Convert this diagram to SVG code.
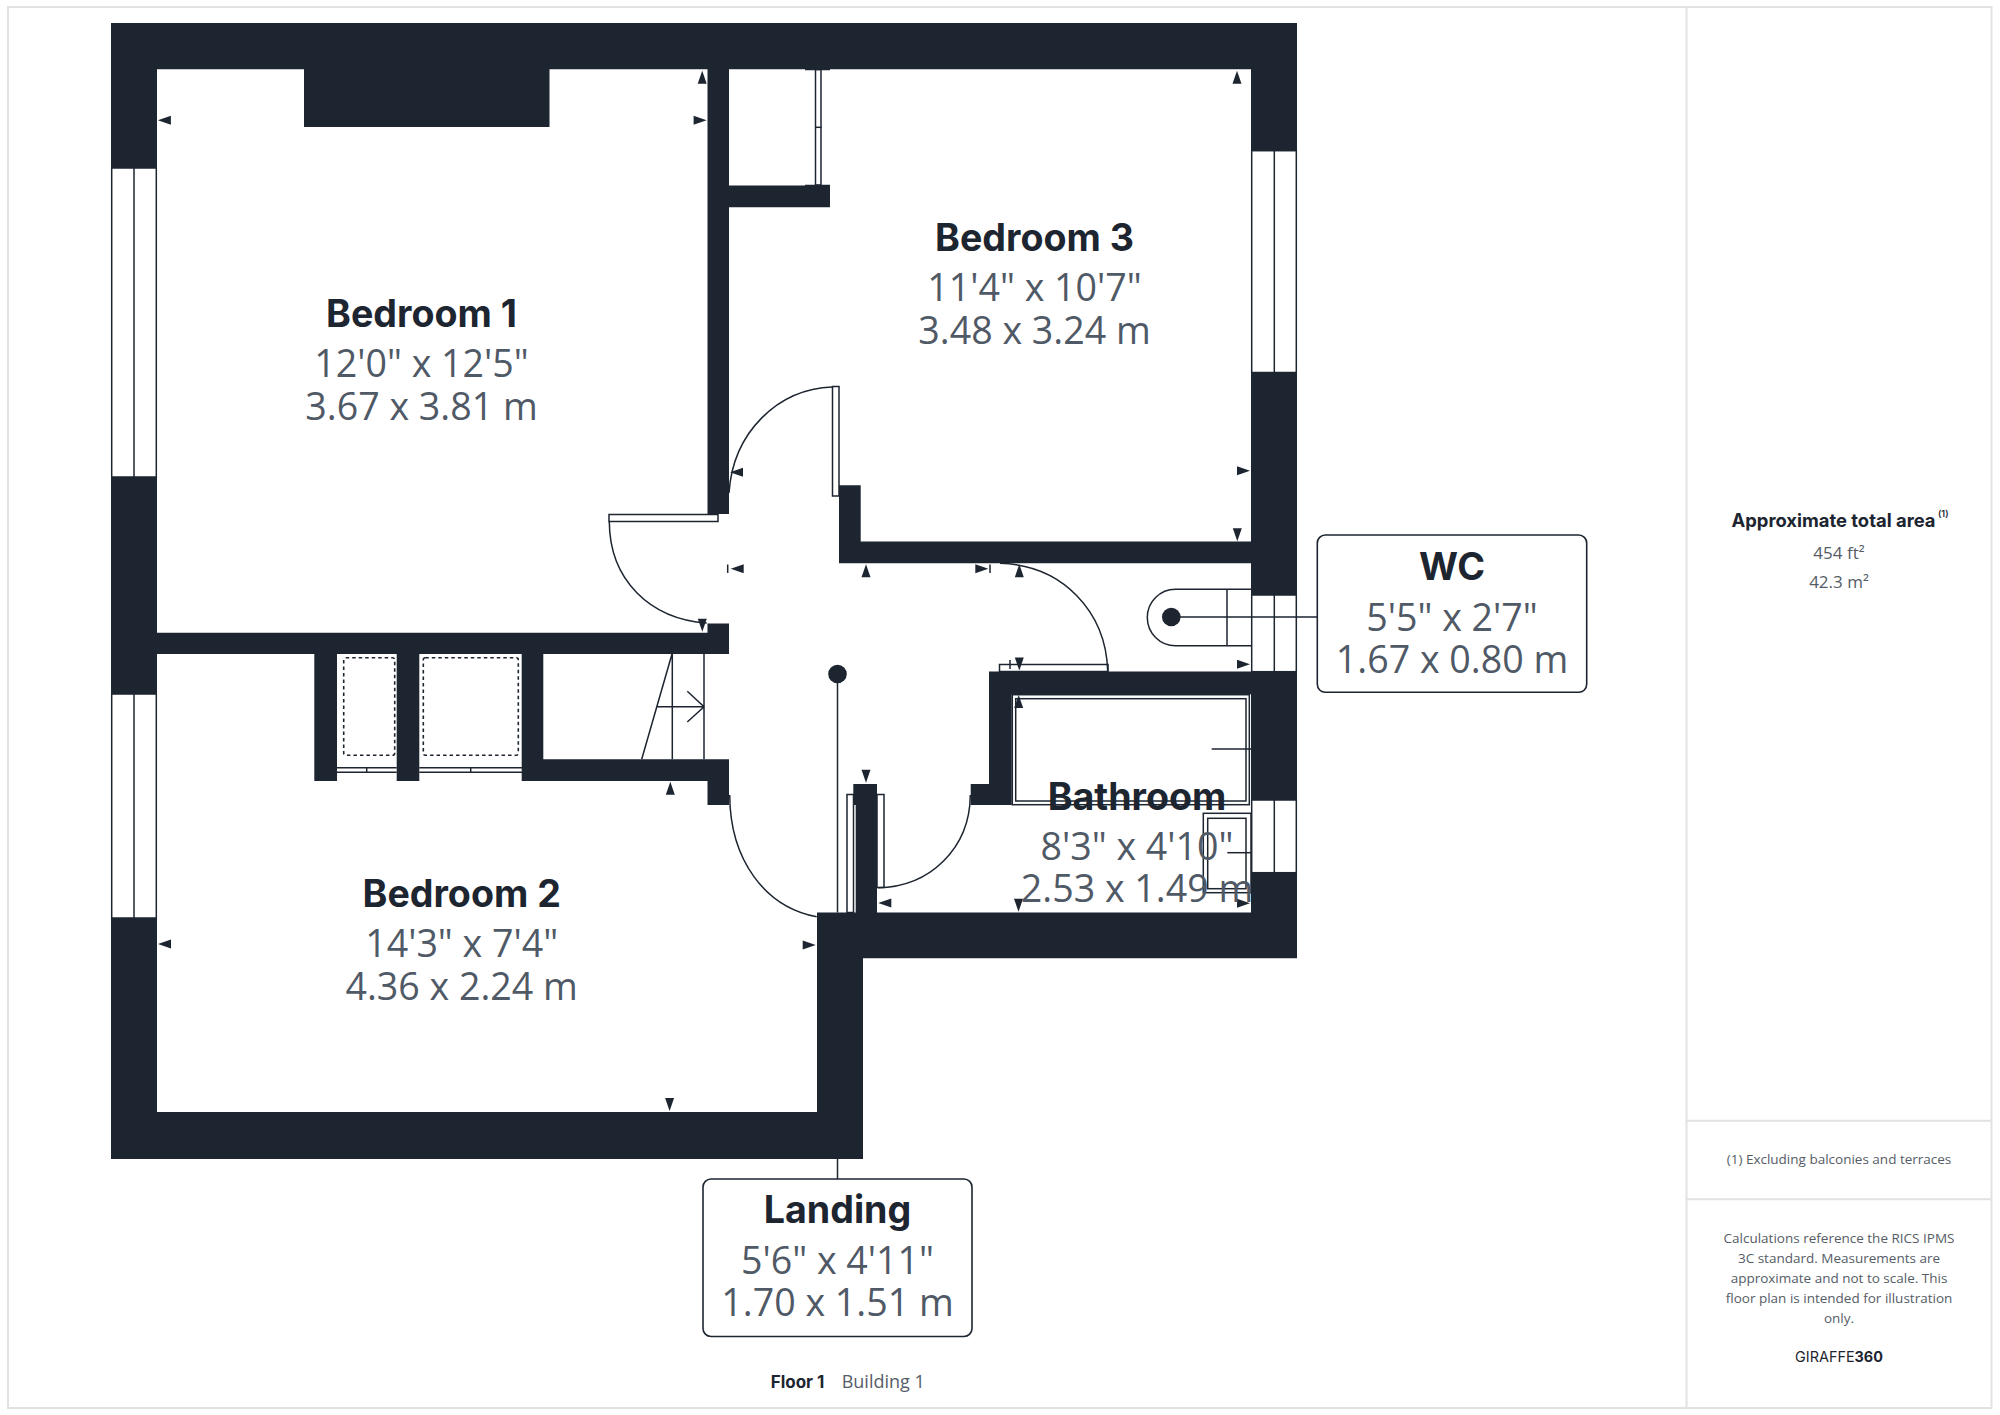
<svg xmlns="http://www.w3.org/2000/svg" width="2000" height="1415" viewBox="0 0 2000 1415">
<style>
.w{fill:#1d2530}
.l{fill:none;stroke:#1d2530;stroke-width:1.5}
.wl{fill:#fff;stroke:#1d2530;stroke-width:1.5}
.d{fill:none;stroke:#1d2530;stroke-width:1.6;stroke-dasharray:3.5 3}
.t{font-family:"Inter","Liberation Sans",sans-serif;font-weight:700;font-size:37.6px;fill:#1d2530;text-anchor:middle}
.s{font-family:"Open Sans","Liberation Sans",sans-serif;font-weight:400;font-size:37.6px;fill:#505966;text-anchor:middle}
.b{fill:#fff;stroke:#1d2530;stroke-width:1.6}
.p{font-family:"Open Sans","Liberation Sans",sans-serif;font-size:13.5px;fill:#555c66;text-anchor:middle}
.f{fill:none;stroke:#e2e2e2;stroke-width:2}
</style>
<defs>
<path id="au" class="w" d="M0 0L4.5 13H-4.5Z"/>
<path id="ad" class="w" d="M0 0L4.5 -13H-4.5Z"/>
<path id="al" class="w" d="M0 0L13 -4.5V4.5Z"/>
<path id="ar" class="w" d="M0 0L-13 -4.5V4.5Z"/>
</defs>
<rect width="2000" height="1415" fill="#fff"/>
<g id="frame">
<rect class="f" x="8" y="7" width="1983.5" height="1401"/>
<path class="f" d="M1686.5 7V1408M1686.5 1120.7H1991.5M1686.5 1199.3H1991.5"/>
</g>
<g id="walls">
<path class="w" d="M111 23H1297V150.7H1251V69.3H729V185.5H830V207.3H729V514H707.5V69.3H549.5V127H304V69.3H157V168H111Z"/>
<path class="w" d="M111 477H157V632.7H707.5V623.5H729V654H543.3V759.3H729V805H707.5V781H521.7V654H419.3V781H396.7V654H337V781H314.3V654H157V694H111Z"/>
<path class="w" d="M111 918H157V1112H817V912.5H855.7V805H853.3V784H877V912.5H1251V872.7H1297V958.3H863V1159H111Z"/>
<path class="w" d="M1251 372.5H1297V595H1251V563.3H860.7V563.3H839V485.3H860.7V541.5H1251Z"/>
<path class="w" d="M989 671.5H1297V800H1251V694.3H1011.7V805H970.7V784H989Z"/>
</g>
<g id="windows">
<rect class="wl" x="111.7" y="168" width="44.6" height="309"/>
<path class="l" d="M134 168V477"/>
<rect class="wl" x="111.7" y="694" width="44.6" height="224"/>
<path class="l" d="M134 694V918"/>
<rect class="wl" x="1251.7" y="150.7" width="44.6" height="221.8"/>
<path class="l" d="M1274.3 150.7V372.5"/>
<rect class="wl" x="1251.7" y="595" width="44.6" height="76.7"/>
<path class="l" d="M1274.3 595V671.7"/>
<rect class="wl" x="1251.7" y="800" width="44.6" height="72.7"/>
<path class="l" d="M1274.3 800V872.7"/>
</g>
<g id="doors">
<rect class="wl" x="609" y="514.5" width="109" height="7"/>
<path class="l" d="M609.3 521.5C609.5 580 650 619 706.7 623"/>
<rect class="wl" x="832.5" y="386.5" width="6.5" height="109.5"/>
<path class="l" d="M832.3 387C778 389 733 432 729 493"/>
<rect class="wl" x="847" y="794.5" width="6.5" height="118"/>
<rect class="wl" x="877" y="794.5" width="7" height="93"/>
<path class="l" d="M729.7 795C730 860 765 907 816.7 916.7"/>
<path class="l" d="M878 887.7C930 887 970 848 970.3 795"/>
<rect class="wl" x="999.5" y="664.5" width="108.5" height="7"/>
<path class="l" d="M1000 563.3C1063 565 1106 612 1107.7 671"/>
<rect class="wl" x="815.5" y="69.5" width="5.5" height="115.5"/>
<path class="l" d="M815 127.3H821.5" stroke-width="2"/>
<path class="l" d="M805 69.5H830M805 185.5H830"/>
<path class="l" d="M337 767.7H396.7M337 772.3H396.7M366.7 767.7V772.3M419.3 767.7H522M419.3 772.3H522M470.7 767.7V772.3"/>
</g>
<g id="fixtures">
<rect class="d" x="343.7" y="657.7" width="51" height="97.6" rx="2"/>
<rect class="d" x="423.3" y="657.7" width="95" height="97.6" rx="2"/>
<path class="l" d="M672 654L641.7 759.3M672.3 654V759.3M704 654V759.3M657.3 706.7H704M687.3 691.3L704 706.7L687.3 722"/>
<path class="l" d="M1251 589.3H1175.5A28.2 28.2 0 0 0 1175.5 645.7H1251M1227 589.3V645.7"/>
<rect class="l" x="1012.3" y="694.7" width="237" height="110"/>
<rect class="l" x="1015.7" y="698.7" width="230.3" height="102.3"/>
<path class="l" d="M1211.7 749H1251"/>
<rect class="l" x="1203.3" y="813.3" width="47.7" height="79.4"/>
<rect class="l" x="1207.7" y="818.3" width="38.3" height="70.4"/>
<path class="l" d="M1227.3 852.7H1251"/>
</g>
<g id="marks">
<use href="#al" x="157.9" y="120.3"/><use href="#ar" x="706.6" y="120.3"/><use href="#au" x="702.2" y="70.7"/>
<use href="#au" x="1237" y="70.7"/><use href="#ar" x="1250" y="470.7"/>
<use href="#ad" x="1237.3" y="541.3"/><use href="#al" x="730" y="472.3"/>
<use href="#al" x="730.7" y="568.7"/><path class="l" d="M727.7 564.5V572.9"/>
<use href="#au" x="866" y="564.3"/><use href="#ar" x="988.3" y="568.7"/><path class="l" d="M990 564.5V572.9"/>
<use href="#au" x="1019.3" y="564.3"/><use href="#ad" x="702.3" y="631.7"/>
<use href="#au" x="670.3" y="781.7"/><use href="#ad" x="866" y="782.7"/>
<use href="#al" x="878.3" y="903"/><use href="#ad" x="1018.5" y="911.7"/><use href="#ar" x="815.7" y="945"/>
<use href="#au" x="1018.7" y="695"/><use href="#ad" x="1019.3" y="670.5"/><path class="l" d="M1010 660V669"/>
<use href="#ar" x="1250" y="664.3"/><use href="#ar" x="1250" y="903.3"/>
<use href="#al" x="158" y="944"/><use href="#ad" x="669.6" y="1111"/>
</g>
<g id="connectors">
<path class="l" d="M837.5 674V912.5M837.5 1159V1179M1171.3 617H1317.3"/>
<circle class="w" cx="837.5" cy="674" r="9.3"/>
<circle class="w" cx="1171.3" cy="617" r="9.3"/>
</g>
<g id="bedroom1"><text class="t" x="421.5" y="326.5">Bedroom 1</text><text class="s" x="421.5" y="376.5">12'0" x 12'5"</text><text class="s" x="421.5" y="419.5">3.67 x 3.81 m</text></g>
<g id="bedroom2"><text class="t" x="461.7" y="906.5">Bedroom 2</text><text class="s" x="461.7" y="956.5">14'3" x 7'4"</text><text class="s" x="461.7" y="999.5">4.36 x 2.24 m</text></g>
<g id="bedroom3"><text class="t" x="1034.5" y="250.5">Bedroom 3</text><text class="s" x="1034.5" y="300.5">11'4" x 10'7"</text><text class="s" x="1034.5" y="343.5">3.48 x 3.24 m</text></g>
<g id="bathroom"><text class="t" x="1137" y="810">Bathroom</text><text class="s" x="1137" y="860">8'3" x 4'10"</text><text class="s" x="1137" y="902.3">2.53 x 1.49 m</text></g>
<g id="wc"><rect class="b" x="1317.3" y="535" width="269.4" height="157.3" rx="8"/><text class="t" x="1452" y="579.5">WC</text><text class="s" x="1452" y="630.5">5'5" x 2'7"</text><text class="s" x="1452" y="672.5">1.67 x 0.80 m</text></g>
<g id="landing"><rect class="b" x="703" y="1179" width="269" height="157.5" rx="8"/><text class="t" x="837.5" y="1223.2">Landing</text><text class="s" x="837.5" y="1273.5">5'6" x 4'11"</text><text class="s" x="837.5" y="1316.2">1.70 x 1.51 m</text></g>
<g id="panel">
<text x="1833.5" y="526.7" style="font-family:Inter,'Liberation Sans',sans-serif;font-weight:700;font-size:18.4px;fill:#1d2530;text-anchor:middle">Approximate total area</text>
<text x="1938" y="516.7" style="font-family:Inter,'Liberation Sans',sans-serif;font-weight:600;font-size:9px;fill:#1d2530">(1)</text>
<text class="p" x="1839" y="559" style="font-size:17px">454 ft²</text>
<text class="p" x="1839" y="588" style="font-size:17px">42.3 m²</text>
<text class="p" x="1839" y="1164">(1) Excluding balconies and terraces</text>
<text class="p" x="1839" y="1243">Calculations reference the RICS IPMS</text>
<text class="p" x="1839" y="1263">3C standard. Measurements are</text>
<text class="p" x="1839" y="1283">approximate and not to scale. This</text>
<text class="p" x="1839" y="1303">floor plan is intended for illustration</text>
<text class="p" x="1839" y="1322.7">only.</text>
<text x="1839" y="1361.7" style="font-family:Inter,'Liberation Sans',sans-serif;font-size:14.4px;fill:#1d2530;text-anchor:middle">GIRAFFE<tspan font-weight="700">360</tspan></text>
</g>
<g id="footer">
<text x="770.7" y="1388" style="font-family:Inter,'Liberation Sans',sans-serif;font-weight:700;font-size:17px;fill:#1d2530">Floor 1</text>
<text x="841.7" y="1388" style="font-family:'Open Sans','Liberation Sans',sans-serif;font-size:18px;fill:#555c66">Building 1</text>
</g>
</svg>
